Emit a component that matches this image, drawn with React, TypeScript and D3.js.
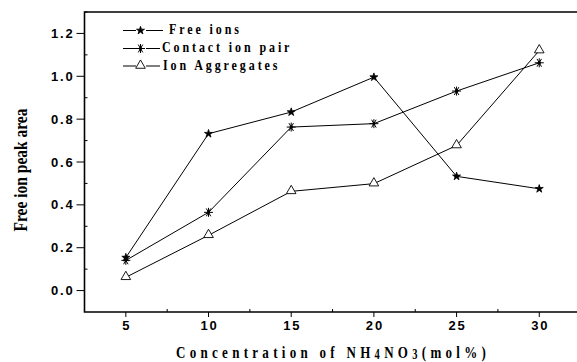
import React from "react";
import * as d3 from "d3";

const concentrations = [5, 10, 15, 20, 25, 30];
const freeIons = [0.154, 0.732, 0.833, 0.996, 0.533, 0.475];
const contactIonPair = [0.141, 0.365, 0.763, 0.779, 0.931, 1.063];
const ionAggregates = [0.062, 0.258, 0.463, 0.499, 0.677, 1.12];
const seriesNames = ["Free ions", "Contact ion pair", "Ion Aggregates"];
const xTicks = [5, 10, 15, 20, 25, 30];
const yTicks = [0.0, 0.2, 0.4, 0.6, 0.8, 1.0, 1.2];

const W = 577, H = 362;
const left = 84.5, top = 12, bottom = 312;

const x = d3.scaleLinear().domain([2.5, 32.5]).range([left, 580.6]);
const y = d3.scaleLinear().domain([-0.1, 1.3]).range([bottom, top]);

const starPath = d3.symbol().type(d3.symbolStar).size(20)()!;
const triPath = d3.symbol().type(d3.symbolTriangle).size(40)()!;

function Marker({ kind, cx, cy }: { kind: number; cx: number; cy: number }) {
  if (kind === 0) {
    return <path d={starPath} transform={`translate(${cx},${cy})`} fill="#000" stroke="#000" strokeWidth={0.8} />;
  }
  if (kind === 1) {
    const r = 4.5;
    const segs = [0, 60, 120, 90].map((a) => {
      const rad = (a * Math.PI) / 180;
      return `M${cx - r * Math.cos(rad)},${cy - r * Math.sin(rad)}L${cx + r * Math.cos(rad)},${cy + r * Math.sin(rad)}`;
    });
    return (
      <g stroke="#000" strokeWidth={1}>
        <path d={segs.join("")} />
        <circle cx={cx} cy={cy} r={1.2} fill="#000" />
      </g>
    );
  }
  return <path d={triPath} transform={`translate(${cx},${cy - 0.5})`} fill="#fff" stroke="#000" strokeWidth={0.9} />;
}

const serif = "Liberation Serif, Times New Roman, serif";
const sans = "Liberation Sans, Arial, sans-serif";

export default function App() {
  const series = [freeIons, contactIonPair, ionAggregates];
  const line = d3
    .line<number>()
    .x((_, i) => x(concentrations[i]))
    .y((v) => y(v));
  const xMinor = d3.range(7.5, 33, 5);
  const yMinor = d3.range(-0.1, 1.31, 0.2).filter((v) => v > -0.05);
  const legendY = [30.5, 48.5, 66];
  const legendTextX = [169, 162, 163];
  const legendLineEnd = [163, 160, 160];
  return (
    <div style={{ position: "fixed", left: 0, top: 0, width: W, height: H, overflow: "hidden", background: "#fff" }}>
      <svg width={W} height={H} style={{ display: "block" }}>
        {series.map((s, k) => (
          <path key={k} d={line(s)!} fill="none" stroke="#000" strokeWidth={1} />
        ))}
        {series.map((s, k) =>
          s.map((v, i) => <Marker key={`${k}-${i}`} kind={k} cx={x(concentrations[i])} cy={y(v)} />)
        )}
        <path d={`M${x.range()[1]},${top}H${left}V${bottom}H${x.range()[1]}`} fill="none" stroke="#000" strokeWidth={1.6} />
        {yTicks.map((t) => (
          <g key={t}>
            <line x1={left - 8} x2={left} y1={y(t)} y2={y(t)} stroke="#000" strokeWidth={1} />
            <text x={left - 10} y={y(t) + 4.5} textAnchor="end" fontFamily={sans} fontWeight="bold" fontSize={13} letterSpacing={1.8}>
              {t.toFixed(1)}
            </text>
          </g>
        ))}
        {yMinor.map((t, i) => (
          <line key={i} x1={left} x2={left + 3} y1={y(t)} y2={y(t)} stroke="#000" strokeWidth={1} />
        ))}
        {xTicks.map((t) => (
          <g key={t}>
            <line x1={x(t)} x2={x(t)} y1={bottom} y2={bottom + 5} stroke="#000" strokeWidth={1} />
            <text x={x(t) + 1} y={bottom + 18} textAnchor="middle" fontFamily={sans} fontWeight="bold" fontSize={13} letterSpacing={1.8}>
              {t}
            </text>
          </g>
        ))}
        {xMinor.map((t, i) => (
          <line key={i} x1={x(t)} x2={x(t)} y1={bottom} y2={bottom - 3} stroke="#000" strokeWidth={1} />
        ))}
        <g transform="translate(27,170) rotate(-90) scale(1,1.15)">
          <text x={0} y={0} textAnchor="middle" fontFamily={serif} fontWeight="bold" fontSize={15.5}>
            Free ion peak area
          </text>
        </g>
        <g transform="translate(176,357.5) scale(1,1.3)">
          <text x={0} y={0} fontFamily={serif} fontWeight="bold" fontSize={13} letterSpacing={4.3}>
            Concentration of NH
            <tspan fontSize={10.5} dy={1.5}>4</tspan>
            <tspan dy={-1.5}>NO</tspan>
            <tspan fontSize={10.5} dy={1.5}>3</tspan>
            <tspan dy={-1.5}>(mol%)</tspan>
          </text>
        </g>
        {seriesNames.map((n, k) => (
          <g key={n}>
            <line x1={123} x2={136} y1={legendY[k]} y2={legendY[k]} stroke="#000" strokeWidth={1} />
            <line x1={146} x2={legendLineEnd[k]} y1={legendY[k]} y2={legendY[k]} stroke="#000" strokeWidth={1} />
            <Marker kind={k} cx={140.5} cy={legendY[k]} />
            <g transform={`translate(${legendTextX[k]},${legendY[k] + 3.5}) scale(1,1.15)`}>
              <text x={0} y={0} fontFamily={serif} fontWeight="bold" fontSize={12} letterSpacing={2.9}>
                {n}
              </text>
            </g>
          </g>
        ))}
      </svg>
    </div>
  );
}
